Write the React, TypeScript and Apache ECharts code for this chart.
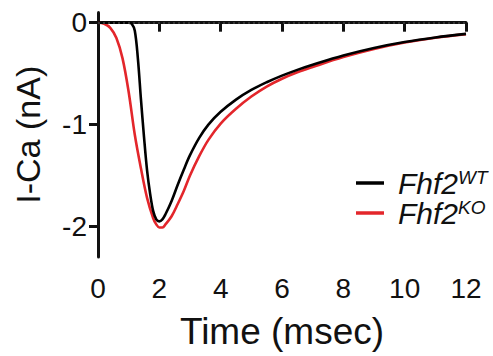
import React, { useEffect, useRef } from "react";
import * as echarts from "echarts";

const wtTime = [0, 0.5, 1.0, 1.1, 1.2, 1.3, 1.4, 1.5, 1.6, 1.7, 1.8, 1.9, 2.0, 2.1, 2.2, 2.4, 2.6, 2.8, 3.0, 3.3, 3.6, 4.0, 4.5, 5.0, 5.5, 6.0, 6.5, 7.0, 8.0, 9.0, 10.0, 11.0, 12.0];
const wtCurrent = [0, 0, 0, -0.01, -0.08, -0.35, -0.75, -1.12, -1.45, -1.68, -1.85, -1.93, -1.95, -1.93, -1.88, -1.75, -1.59, -1.44, -1.30, -1.13, -1.00, -0.875, -0.755, -0.66, -0.585, -0.52, -0.463, -0.413, -0.322, -0.248, -0.19, -0.145, -0.11];

const koTime = [0, 0.2, 0.4, 0.6, 0.8, 1.0, 1.2, 1.4, 1.6, 1.8, 1.9, 2.0, 2.1, 2.2, 2.4, 2.6, 2.8, 3.0, 3.3, 3.6, 4.0, 4.5, 5.0, 5.5, 6.0, 6.5, 7.0, 8.0, 9.0, 10.0, 11.0, 12.0];
const koCurrent = [0, -0.01, -0.05, -0.15, -0.35, -0.68, -1.1, -1.43, -1.72, -1.92, -1.98, -2.01, -2.01, -1.98, -1.90, -1.78, -1.65, -1.50, -1.31, -1.15, -0.99, -0.845, -0.725, -0.627, -0.55, -0.487, -0.435, -0.338, -0.258, -0.195, -0.147, -0.112];

const xTicks = [0, 2, 4, 6, 8, 10, 12];
const yTicks = [-2, -1, 0];
const seriesNames = ["WT", "KO"];
const geneName = "Fhf2";

const FONT = "'Liberation Sans', Arial, Helvetica, sans-serif";

export default function App() {
  const ref = useRef<HTMLDivElement>(null);
  useEffect(() => {
    if (!ref.current) return;
    const chart = echarts.init(ref.current, undefined, { renderer: "svg" });
    const zip = (t: number[], v: number[]) => t.map((x, i) => [x, v[i]]);
    chart.setOption({
      animation: false,
      backgroundColor: "#ffffff",
      textStyle: { fontFamily: FONT },
      grid: { left: 98, right: 27, top: 12.5, bottom: 99 },
      legend: {
        left: 351,
        top: 163,
        orient: "vertical",
        itemWidth: 28,
        itemHeight: 3.5,
        itemGap: 0,
        icon: "rect",
        data: seriesNames,
        formatter: (n: string) => `{i|${geneName}}{s|${n}}`,
        textStyle: {
          fontFamily: FONT,
          color: "#111",
          rich: {
            i: { fontStyle: "italic", fontSize: 30, fontFamily: FONT, color: "#111", lineHeight: 30, padding: [0, 0, 0, 9] },
            s: { fontStyle: "italic", fontSize: 19, fontFamily: FONT, color: "#111", verticalAlign: "top", lineHeight: 20 },
          },
        },
      },
      xAxis: {
        type: "value",
        min: 0,
        max: 12,
        interval: 2,
        name: "Time (msec)",
        nameLocation: "middle",
        nameGap: 56,
        nameTextStyle: { fontSize: 37, color: "#111", fontFamily: FONT },
        axisLine: { lineStyle: { color: "#111", width: 3 } },
        axisTick: { length: 9, lineStyle: { color: "#111", width: 3 } },
        axisLabel: { fontSize: 28, color: "#111", margin: 17, fontFamily: FONT, customValues: xTicks },
        splitLine: { show: false },
      },
      yAxis: {
        type: "value",
        min: -2.3,
        max: 0.1,
        name: "I-Ca (nA)",
        nameLocation: "middle",
        nameGap: 53,
        nameTextStyle: { fontSize: 34, color: "#111", fontFamily: FONT },
        axisLine: { show: true, lineStyle: { color: "#111", width: 3 } },
        axisTick: { show: true, length: 9, lineStyle: { color: "#111", width: 3 }, customValues: yTicks },
        axisLabel: { fontSize: 28, color: "#111", margin: 11, fontFamily: FONT, customValues: yTicks },
        splitLine: { show: false },
      },
      series: [
        {
          name: seriesNames[0],
          type: "line",
          data: zip(wtTime, wtCurrent),
          showSymbol: false,
          smooth: 0.35,
          lineStyle: { color: "#000000", width: 2.6 },
          itemStyle: { color: "#000000" },
          z: 3,
          markLine: {
            silent: true,
            symbol: "none",
            label: { show: false },
            lineStyle: { color: "#333", type: [2, 3], width: 2 },
            data: [{ yAxis: 0 }],
          },
        },
        {
          name: seriesNames[1],
          type: "line",
          data: zip(koTime, koCurrent),
          showSymbol: false,
          smooth: 0.35,
          lineStyle: { color: "#e3262b", width: 2.6 },
          itemStyle: { color: "#e3262b" },
          z: 2,
        },
      ],
    });
    return () => chart.dispose();
  }, []);
  return <div ref={ref} style={{ width: 493, height: 356, position: "absolute", left: 0, top: 0 }} />;
}
